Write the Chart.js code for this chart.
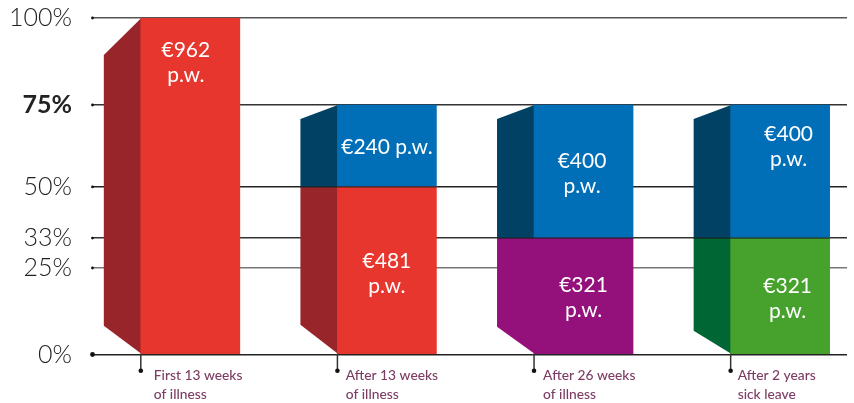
<!DOCTYPE html>
<html lang="en">
<head>
	<meta charset="utf-8">
	<title>Sick pay by period of illness</title>
	<style>
		html, body { margin: 0; padding: 0; background: #fff; overflow: hidden; }
	</style>
</head>
<body>
	<canvas id="sickPayChart" width="854" height="403"></canvas>

	<script src="https://cdn.jsdelivr.net/npm/chart.js@4"></script>
	<script>
		// values
		const categories = [
			['First 13 weeks', 'of illness'],
			['After 13 weeks', 'of illness'],
			['After 26 weeks', 'of illness'],
			['After 2 years', 'sick leave']
		];
		const lowerValues = [100, 49.8, 34.6, 34.6];
		const upperValues = [null, 24.35, 39.55, 39.55];
		const lowerText = [['€962', 'p.w.'], ['€481', 'p.w.'], ['€321', 'p.w.'], ['€321', 'p.w.']];
		const upperText = [null, ['€240 p.w.'], ['€400', 'p.w.'], ['€400', 'p.w.']];
		// the axis of the original is not quite even, so the ticks sit where they were drawn
		const tickValues = [0, 25.7, 34.6, 49.8, 74.15, 100];
		const tickLabels = ['0%', '25%', '33%', '50%', '75%', '100%'];

		// colours
		const lowerColors = ['#e6362d', '#e6362d', '#94107a', '#47a12d'];
		const lowerSideColors = ['#98252a', '#98252a', '#94107a', '#006633'];
		const upperColor = '#006fb7';
		const upperSideColor = '#014163';
		const gridColors = ['#222222', '#777777', '#333333', '#222222', '#333333', '#555555'];
		const labelColor = '#7d3c63';
		const textFont = 'Lato, "Noto Sans", sans-serif';

		// fake 3D side of each bar, in pixels
		const sideDepth = 37;
		const sideTopDrop = [37, 14, 14, 14];
		const sideBottomRise = [28, 29, 27, 23];
		// nudges of the texts from the middle of their block, in pixels
		const lowerNudge = [[-4.5, -123], [0, 3.5], [0, 2], [7.5, 2.5]];
		const upperNudge = [null, [0, 1], [-1.5, 2.5], [8.5, -25]];
		const labelShift = [36.5, 41.25, 40.5, 42.5];
		const barSpacing = 196.67;

		function polygon(ctx, color, pts) {
			ctx.fillStyle = color;
			ctx.beginPath();
			pts.forEach((p, i) => i ? ctx.lineTo(p[0], p[1]) : ctx.moveTo(p[0], p[1]));
			ctx.closePath();
			ctx.fill();
		}

		const sideFaces = {
			id: 'sideFaces',
			beforeDatasetsDraw(chart) {
				const ctx = chart.ctx;
				const lower = chart.getDatasetMeta(0).data;
				const upper = chart.getDatasetMeta(1).data;
				categories.forEach((c, i) => {
					const low = lower[i];
					const right = low.x - low.width / 2 + 0.5;
					const left = right - 0.5 - sideDepth;
					if (upperValues[i] === null) {
						polygon(ctx, lowerSideColors[i], [[right, low.y], [left, low.y + sideTopDrop[i]], [left, low.base - sideBottomRise[i]], [right, low.base]]);
						return;
					}
					const up = upper[i];
					polygon(ctx, lowerSideColors[i], [[right, low.y], [left, low.y], [left, low.base - sideBottomRise[i]], [right, low.base]]);
					polygon(ctx, upperSideColor, [[right, up.y], [left, up.y + sideTopDrop[i]], [left, low.y], [right, low.y]]);
				});
			},
			afterDatasetsDraw(chart) {
				const ctx = chart.ctx;
				const lower = chart.getDatasetMeta(0).data;
				const upper = chart.getDatasetMeta(1).data;
				const area = chart.chartArea;
				const yScale = chart.scales.y;

				// thin line where two blocks of a bar meet
				ctx.strokeStyle = '#1c1c1c';
				ctx.lineWidth = 1;
				categories.forEach((c, i) => {
					if (upperValues[i] === null) return;
					const low = lower[i];
					ctx.beginPath();
					ctx.moveTo(low.x - low.width / 2 - sideDepth, low.y);
					ctx.lineTo(low.x + low.width / 2, low.y);
					ctx.stroke();
				});

				// stems under the bars
				ctx.strokeStyle = '#333333';
				ctx.fillStyle = '#111111';
				ctx.lineWidth = 1.5;
				lower.forEach(low => {
					const x = low.x - low.width / 2;
					ctx.beginPath();
					ctx.moveTo(x, low.base);
					ctx.lineTo(x, low.base + 17);
					ctx.stroke();
					ctx.beginPath();
					ctx.arc(x, low.base + 17, 2.3, 0, Math.PI * 2);
					ctx.fill();
				});

				// dots at the start of the grid lines
				tickValues.forEach(v => {
					ctx.beginPath();
					ctx.arc(area.left + 0.5, yScale.getPixelForValue(v), v === 0 ? 2.4 : 1.4, 0, Math.PI * 2);
					ctx.fill();
				});

				// texts inside the blocks
				ctx.fillStyle = '#ffffff';
				ctx.font = '400 21px ' + textFont;
				ctx.textAlign = 'center';
				ctx.textBaseline = 'middle';
				const writeBlock = (el, lines, nudge) => {
					const middle = (el.y + el.base) / 2 + nudge[1];
					lines.forEach((line, k) => {
						ctx.fillText(line, el.x + nudge[0], middle + (k - (lines.length - 1) / 2) * 25);
					});
				};
				categories.forEach((c, i) => {
					writeBlock(lower[i], lowerText[i], lowerNudge[i]);
					if (upperText[i]) writeBlock(upper[i], upperText[i], upperNudge[i]);
				});
			}
		};

		new Chart(document.getElementById('sickPayChart').getContext('2d'), {
			type: 'bar',
			data: {
				datasets: [{
					label: 'Lower share',
					data: lowerValues.map((v, i) => ({ x: i + 1, y: v })),
					backgroundColor: lowerColors,
					borderWidth: 0
				}, {
					label: 'Upper share',
					data: upperValues.map((v, i) => ({ x: i + 1, y: v })),
					backgroundColor: upperColor,
					borderWidth: 0
				}]
			},
			options: {
				responsive: false,
				animation: false,
				barThickness: 99,
				layout: { padding: { top: 18, right: 7, left: 0, bottom: 0 } },
				plugins: {
					legend: { display: false },
					tooltip: { enabled: false }
				},
				scales: {
					x: {
						type: 'linear',
						stacked: true,
						offset: false,
						min: 0.5,
						max: 4.34,
						grid: { display: false },
						border: { display: false },
						afterBuildTicks(scale) {
							scale.ticks = categories.map((c, i) => ({ value: i + 1 - labelShift[i] / barSpacing }));
						},
						afterFit(scale) {
							scale.height = 48.5;
							scale.paddingLeft = 0;
							scale.paddingRight = 0;
						},
						ticks: {
							autoSkip: false,
							maxRotation: 0,
							align: 'start',
							padding: 3,
							color: labelColor,
							font: { family: textFont, size: 13.8, weight: '500', lineHeight: 1.41 },
							callback: (value, index) => categories[index]
						}
					},
					y: {
						stacked: true,
						min: 0,
						max: 100,
						border: { display: false },
						afterBuildTicks(scale) {
							scale.ticks = tickValues.map(v => ({ value: v }));
						},
						afterFit(scale) {
							scale.width = 92;
							scale.paddingTop = 0;
							scale.paddingBottom = 0;
						},
						grid: {
							drawTicks: false,
							lineWidth: 1.5,
							color: ctx => gridColors[ctx.index]
						},
						ticks: {
							padding: 20,
							color: '#222222',
							font: ctx => ({
								family: textFont,
								size: 25,
								weight: tickLabels[ctx.index] === '75%' ? '700' : '300'
							}),
							callback: (value, index) => tickLabels[index]
						}
					}
				}
			},
			plugins: [sideFaces]
		});
	</script>
</body>
</html>
